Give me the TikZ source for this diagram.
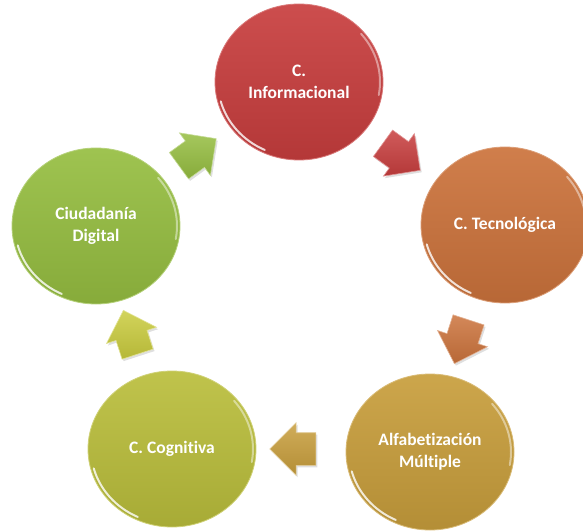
\documentclass[tikz,border=0pt]{standalone}
\usepackage{fontspec}
\setmainfont{Carlito}[Ligatures=NoCommon]
\usetikzlibrary{shapes.geometric,shapes.arrows,shadows}

\definecolor{rojo}{RGB}{200,62,62}
\definecolor{naranja}{RGB}{204,115,60}
\definecolor{oro}{RGB}{200,158,60}
\definecolor{oliva}{RGB}{186,190,60}
\definecolor{verde}{RGB}{150,190,65}
\definecolor{amarillo}{RGB}{202,204,62}

\tikzset{
  bola/.style = {ellipse, minimum width=168pt, minimum height=156pt, inner sep=0pt,
                 align=center, text=white, font=\bfseries\fontsize{17.5}{22}\selectfont,
                 top color=#1!92!white, bottom color=#1!90!black,
                 draw=#1!70!white, line width=.8pt},
  flecha/.style = {single arrow, minimum height=46pt, inner xsep=0pt, inner ysep=16pt,
                   single arrow head extend=10pt,
                   top color=#1!85!white, bottom color=#1!90!black,
                   draw=#1!55!white, line width=.6pt,
                   drop shadow={opacity=.25, shadow xshift=1.5pt, shadow yshift=-2pt}},
  brillo/.style = {white, opacity=.8, line width=2pt, line cap=round}
}

\begin{document}
\begin{tikzpicture}[x=1pt, y=1pt]
  \useasboundingbox (0,0) rectangle (583,531);

  % the five circles of the cycle
  \node [bola=rojo]    (info)  at (299,449) {C.\\Informacional};
  \node [bola=naranja] (tecno) at (505,306) {C. Tecnológica};
  \node [bola=oro]     (alfa)  at (430,79)  {Alfabetización\\Múltiple};
  \node [bola=oliva]   (cogn)  at (172,82)  {C. Cognitiva};
  \node [bola=verde]   (ciud)  at (96,305)  {Ciudadanía\\Digital};

  % glossy rim on every circle
  \foreach \n in {info,tecno,alfa,cogn,ciud} {
    \draw [brillo] ([shift={(195:81 and 75)}]\n.center)
      arc [start angle=195, end angle=245, x radius=81, y radius=75];
    \draw [brillo, opacity=.45] ([shift={(-10:81 and 75)}]\n.center)
      arc [start angle=-10, end angle=40, x radius=81, y radius=75];
  }

  % block arrows between the circles, clockwise
  \node [flecha=rojo,     rotate=-36]  (f1) at (395,379) {};
  \node [flecha=naranja,  rotate=-108] (f2) at (464,197) {};
  \node [flecha=oro,      rotate=180]  (f3) at (301,82)  {};
  \node [flecha=amarillo, rotate=108]  (f4) at (133,191) {};
  \node [flecha=verde,    rotate=36]   (f5) at (191,374) {};

\end{tikzpicture}
\end{document}
